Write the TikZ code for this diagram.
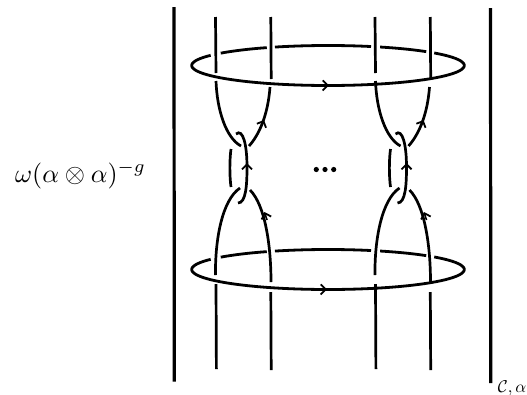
\documentclass[tikz,border=0pt]{standalone}
\usetikzlibrary{arrows.meta}
\tikzset{
  bar/.style={line width=3.2pt},
  strand/.style={line width=2.7pt},
  loopline/.style={line width=2.8pt},
  tick/.style={line width=1.6pt,-{Straight Barb[length=5pt,width=10pt,line width=1.8pt]}},
}
\begin{document}
\begin{tikzpicture}[x=1pt,y=-1pt]
\useasboundingbox (0,0) rectangle (527,394);
% outer bars
\coordinate (l1) at (174,7);
\coordinate (l2) at (174.3,381.5);
\coordinate (r1) at (490.5,8);
\coordinate (r2) at (490.8,383);
\draw[bar] (l1) -- (l2);
\draw[bar] (r1) -- (r2);
% labels
\node[scale=2.6,inner sep=0pt] (coef) at (80.5,175) {$\omega(\alpha\otimes\alpha)^{-g}$};
\node[scale=1.7,inner sep=0pt,anchor=west] (sub) at (497.5,388) {$\mathcal{C},\alpha$};
\node[inner sep=0pt] (dots) at (325,169.5) {\tikz[x=1pt,y=1pt]{\fill (-8.7,0) circle (2.6pt) (0,0) circle (2.6pt) (8.7,0) circle (2.6pt);}};
% circles around strands
\foreach \cy in {65.5,269.5}{
  \foreach \s/\e in {-38.8/210.6,218.1/243.3,247.1/288.4,292.5/316.1}{
    \draw[loopline] plot[domain=\s:\e,samples=70,smooth] ({328+136.3*cos(\x)},{\cy+20*sin(\x)});
  }
}
\draw[tick] (318,85.4) -- (329,85.5);
\draw[tick] (316,289.4) -- (327,289.5);
% strands
\foreach \dx in {0,159.5}{
\begin{scope}[xshift=\dx pt]
  \draw[strand] (215.5,17) -- (216,73);
  \draw[strand] (270.8,17) -- (271.2,79);
  \draw[strand] (216,81) .. controls (217,110) and (226,138) .. (241,146);
  \draw[strand] (270,87) .. controls (268,115) and (259,135) .. (249,146);
  \draw[strand] (236,134) .. controls (243,128) and (247,145) .. (247,167)
                .. controls (247,185) and (246,203) .. (238,203);
  \draw[strand] (231,149) .. controls (229.5,160) and (229.5,176) .. (231,187);
  \draw[strand] (240,188) .. controls (222,200) and (215,240) .. (215.5,275);
  \draw[strand] (250,190) .. controls (265,205) and (271,245) .. (271,282);
  \draw[strand] (216,284) -- (216.4,369);
  \draw[strand] (270.8,292) -- (271.2,370);
  \draw[tick] (260,129) -- (264,120);
  \draw[tick] (247,171) -- (247,163);
  \draw[tick] (267,220) -- (264.5,212);
\end{scope}
}
\end{tikzpicture}
\end{document}
